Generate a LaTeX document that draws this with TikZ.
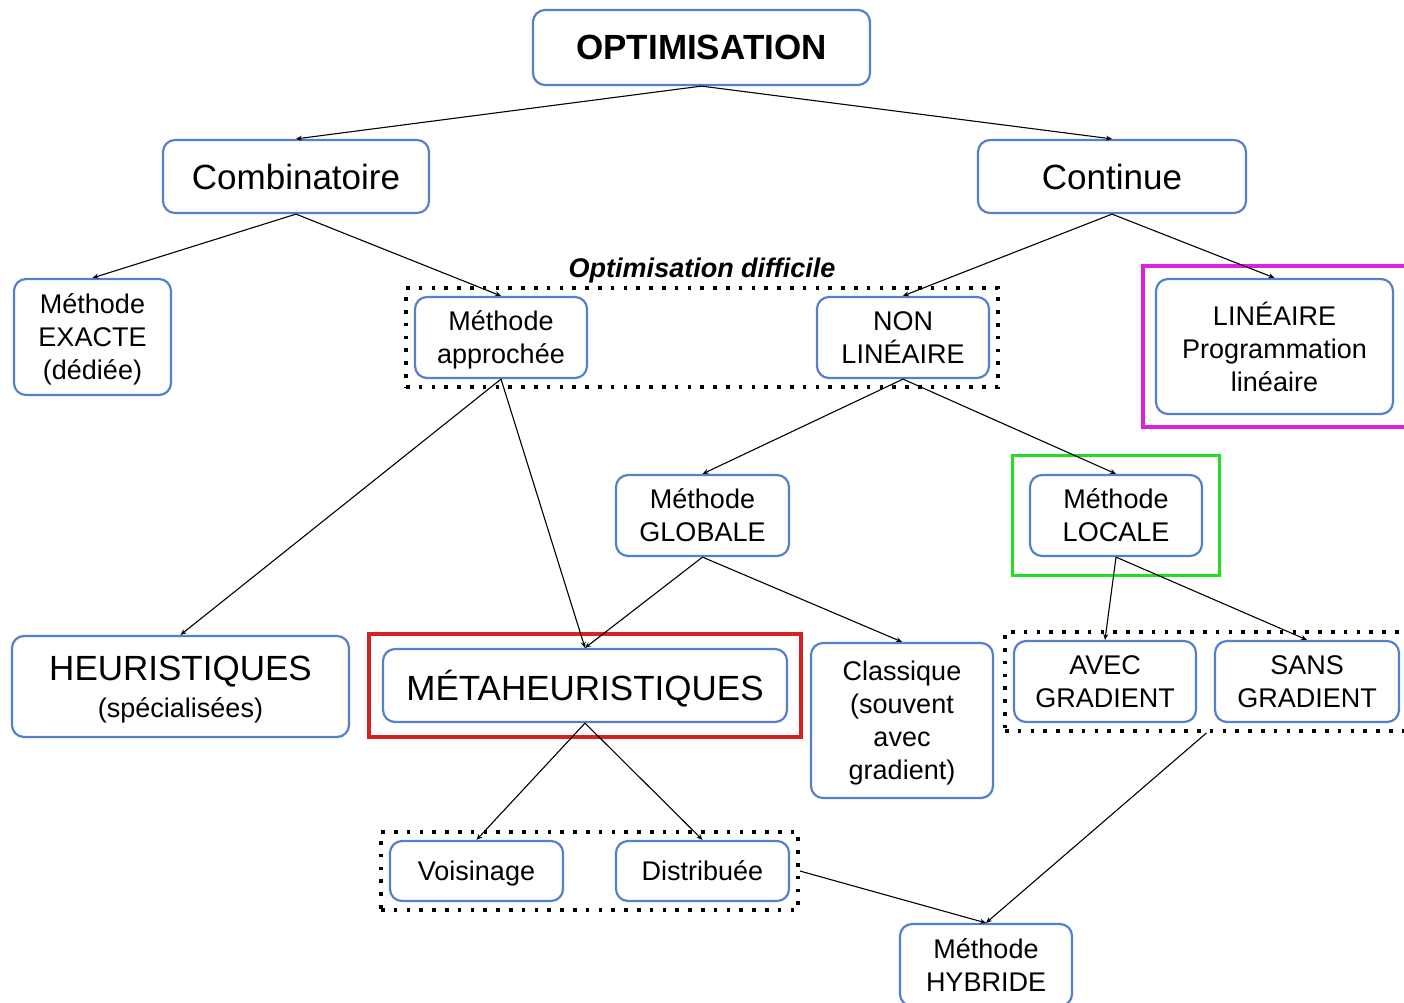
\documentclass[tikz,border=0pt]{standalone}
\usepackage{fontspec}
\setmainfont{Liberation Sans}
\usetikzlibrary{arrows.meta,fit}
\definecolor{boxblue}{HTML}{5680CC}
\definecolor{hlred}{HTML}{D62222}
\definecolor{hlgreen}{HTML}{22DD22}
\definecolor{hlmagenta}{HTML}{DD22DD}
\newcommand{\fbig}{\fontsize{35}{40}\selectfont}
\newcommand{\fmid}{\fontsize{27}{33}\selectfont}
\tikzset{
  box/.style={draw=boxblue, line width=2.2pt, rounded corners=12pt, fill=white,
    inner sep=0pt, align=center, text=black, text depth=0pt},
  link/.style={-{Stealth[length=6pt,width=5pt]}, line width=1.1pt, black},
  group/.style={draw=black, line width=3.6pt, dash pattern=on 3.6pt off 9.2pt, inner sep=8pt},
  highlight/.style={line width=3.4pt, inner sep=0pt},
}
\begin{document}
\begin{tikzpicture}[x=1pt,y=-1pt]
\useasboundingbox (0,0) rectangle (1404,1002);

% top levels
\node[box, minimum width=337pt, minimum height=75pt, font=\fbig\bfseries] (opt) at (701.5,47.5) {OPTIMISATION};
\node[box, minimum width=266pt, minimum height=73pt, font=\fbig] (comb) at (296,176.5) {Combinatoire};
\node[box, minimum width=268pt, minimum height=73pt, font=\fbig] (cont) at (1112,176.5) {Continue};

% second level
\node[box, minimum width=157pt, minimum height=116pt, font=\fmid] (exacte) at (92.5,337) {Méthode\\EXACTE\\(dédiée)};
\node[box, minimum width=172pt, minimum height=81pt, font=\fmid] (appro) at (501,337.5) {Méthode\\approchée};
\node[box, minimum width=172pt, minimum height=81pt, font=\fmid] (nonlin) at (903,337.5) {NON\\LINÉAIRE};
\node[box, minimum width=237pt, minimum height=135pt, font=\fmid] (lin) at (1274.5,346.5) {LINÉAIRE\\Programmation\\linéaire};

% non-linear branch
\node[box, minimum width=173pt, minimum height=81pt, font=\fmid] (glob) at (702.5,515.5) {Méthode\\GLOBALE};
\node[box, minimum width=172pt, minimum height=81pt, font=\fmid] (loc) at (1116,515.5) {Méthode\\LOCALE};

% methods
\node[box, minimum width=337pt, minimum height=101pt, font=\fbig] (heur) at (180.5,686.5)
  {HEURISTIQUES\\[-3pt]{\fmid (spécialisées)}};
\node[box, minimum width=404pt, minimum height=73pt, font=\fbig] (meta) at (585,685.5) {MÉTAHEURISTIQUES};
\node[box, minimum width=182pt, minimum height=155pt, font=\fmid] (class) at (902,720.5) {Classique\\(souvent\\avec\\gradient)};
\node[box, minimum width=182pt, minimum height=81pt, font=\fmid] (avec) at (1105,681.5) {AVEC\\GRADIENT};
\node[box, minimum width=184pt, minimum height=81pt, font=\fmid] (sans) at (1307,681.5) {SANS\\GRADIENT};

% bottom
\node[box, minimum width=173pt, minimum height=60pt, font=\fmid] (vois) at (476.5,871) {Voisinage};
\node[box, minimum width=173pt, minimum height=60pt, font=\fmid] (distr) at (702.5,871) {Distribuée};
\node[box, minimum width=172pt, minimum height=82pt, font=\fmid] (hyb) at (986,965) {Méthode\\HYBRIDE};

% dotted groupings
\node[group, fit=(appro)(nonlin)] (diff) {};
\node[font=\fmid\bfseries\itshape, text depth=0pt] (difflabel) at (702,268) {Optimisation difficile};
\node[group, fit=(avec)(sans)] (grad) {};
\node[group, fit=(vois)(distr)] (pop) {};

% coloured highlights
\node[highlight, draw=hlmagenta, fit=(lin), inner sep=12pt] (hlin) {};
\node[highlight, draw=hlgreen, fit=(loc), inner xsep=16.5pt, inner ysep=18.5pt] (hloc) {};
\node[highlight, draw=hlred, fit=(meta), inner xsep=13pt, inner ysep=14pt] (hmeta) {};

% connectors
\draw[link] (opt.south) -- (comb.north);
\draw[link] (opt.south) -- (cont.north);
\draw[link] (comb.south) -- (exacte.north);
\draw[link] (comb.south) -- (appro.north);
\draw[link] (cont.south) -- (nonlin.north);
\draw[link] (cont.south) -- (lin.north);
\draw[link] (appro.south) -- (heur.north);
\draw[link] (appro.south) -- (meta.north);
\draw[link] (nonlin.south) -- (glob.north);
\draw[link] (nonlin.south) -- (loc.north);
\draw[link] (glob.south) -- (meta.north);
\draw[link] (glob.south) -- (class.north);
\draw[link] (loc.south) -- (avec.north);
\draw[link] (loc.south) -- (sans.north);
\draw[link] (meta.south) -- (vois.north);
\draw[link] (meta.south) -- (distr.north);
\draw[link] (pop.east) -- (hyb.north);
\draw[link] (grad.south) -- (hyb.north);
\end{tikzpicture}
\end{document}
